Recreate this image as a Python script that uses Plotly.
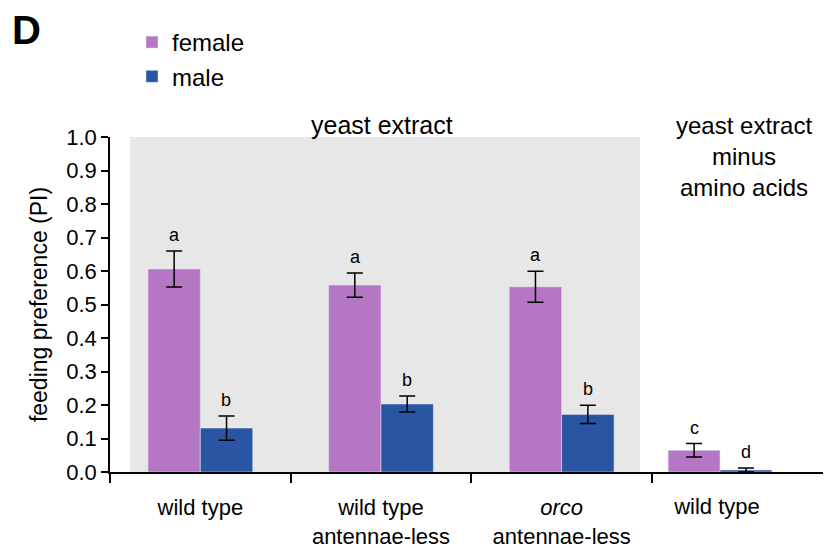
import plotly.graph_objects as go

# ---- data ----
groups_main = ["wild type", "wild type<br>antennae-less", "<i>orco</i><br>antennae-less"]
groups_minus = ["wild type "]
female_main = [0.606, 0.558, 0.553]
female_main_err = [0.054, 0.036, 0.046]
male_main = [0.131, 0.203, 0.172]
male_main_err = [0.036, 0.024, 0.027]
female_minus = [0.065]
female_minus_err = [0.020]
male_minus = [0.006]
male_minus_err = [0.006]
letters_female_main = ["a", "a", "a"]
letters_male_main = ["b", "b", "b"]
letters_female_minus = ["c"]
letters_male_minus = ["d"]
y_ticks = [0.0, 0.1, 0.2, 0.3, 0.4, 0.5, 0.6, 0.7, 0.8, 0.9, 1.0]

FEMALE = "#b577c3"
MALE = "#2a55a3"
FONT = "Liberation Sans, Arial, sans-serif"

# page offset (default body margin of the html page)
OFF = 8
W, H = 831 - OFF, 548 - OFF
L, R, T = 110 - OFF, 0, 137 - OFF
B = H - (472 - OFF)
pw, ph = W - L - R, H - T - B


def px(xs):
    return (xs - OFF - L) / pw


def py(ys):
    return (H - B - (ys - OFF)) / ph


fig = go.Figure()


def eb(err):
    return dict(type="data", array=err, color="black", thickness=1.5, width=8)


fig.add_trace(go.Bar(x=groups_main, y=female_main, name="female", marker_color=FEMALE,
                     error_y=eb(female_main_err), xaxis="x", yaxis="y", legendgroup="f"))
fig.add_trace(go.Bar(x=groups_main, y=male_main, name="male", marker_color=MALE,
                     error_y=eb(male_main_err), xaxis="x", yaxis="y", legendgroup="m"))
fig.add_trace(go.Bar(x=groups_minus, y=female_minus, name="female", marker_color=FEMALE,
                     error_y=eb(female_minus_err), xaxis="x2", yaxis="y", showlegend=False,
                     legendgroup="f"))
fig.add_trace(go.Bar(x=groups_minus, y=male_minus, name="male", marker_color=MALE,
                     error_y=eb(male_minus_err), xaxis="x2", yaxis="y", showlegend=False,
                     legendgroup="m"))

annotations = []


def add_letters(cats, vals, errs, letters, xref, shift):
    for c, v, e, l in zip(cats, vals, errs, letters):
        annotations.append(dict(x=c, y=v + e, xref=xref, yref="y", text=l, showarrow=False,
                                xshift=shift, yanchor="bottom", yshift=4,
                                font=dict(size=18, color="black", family=FONT)))


add_letters(groups_main, female_main, female_main_err, letters_female_main, "x", -26)
add_letters(groups_main, male_main, male_main_err, letters_male_main, "x", 26)
add_letters(groups_minus, female_minus, female_minus_err, letters_female_minus, "x2", -26)
add_letters(groups_minus, male_minus, male_minus_err, letters_male_minus, "x2", 26)

annotations.append(dict(x=px(382), y=py(125), xref="paper", yref="paper", text="yeast extract",
                        showarrow=False, xanchor="center", yanchor="middle",
                        font=dict(size=25, color="black", family=FONT)))
annotations.append(dict(x=px(744), y=py(156), xref="paper", yref="paper",
                        text="yeast extract<br>minus<br>amino acids", showarrow=False,
                        xanchor="center", yanchor="middle",
                        font=dict(size=24, color="black", family=FONT)))
annotations.append(dict(x=px(10), y=py(30), xref="paper", yref="paper", text="<b>D</b>",
                        showarrow=False, xanchor="left", yanchor="middle",
                        font=dict(size=40, color="black", family=FONT)))

fig.update_layout(
    width=W, height=H,
    margin=dict(l=L, r=R, t=T, b=B),
    paper_bgcolor="white", plot_bgcolor="white",
    barmode="group", bargap=0.42, bargroupgap=0,
    font=dict(family=FONT, color="black", size=21),
    showlegend=True,
    legend=dict(x=px(132), y=py(20), xanchor="left", yanchor="top",
                font=dict(size=24, family=FONT), bgcolor="rgba(0,0,0,0)",
                tracegroupgap=4, traceorder="normal"),
    xaxis=dict(domain=[0, px(652)], type="category", range=[-0.5, 2.5],
               showline=True, linecolor="black", linewidth=1.5,
               ticks="outside", tickson="boundaries", ticklen=9, tickcolor="black", tickwidth=1.5,
               ticklabelstandoff=15,
               tickfont=dict(size=22, family=FONT), showgrid=False, zeroline=False),
    xaxis2=dict(domain=[px(652), 1], type="category", anchor="y",
                range=[-0.38, 0.62],
                showline=True, linecolor="black", linewidth=1.5,
                ticks="outside", ticklen=9, tickcolor="rgba(0,0,0,0)",
                ticklabelstandoff=5,
                tickfont=dict(size=22, family=FONT), showgrid=False, zeroline=False),
    yaxis=dict(range=[0, 1], tickvals=y_ticks, tickformat=".1f",
               showline=True, linecolor="black", linewidth=1.5,
               ticks="outside", ticklen=7, tickcolor="black", tickwidth=1.5,
               tickfont=dict(size=22, family=FONT), showgrid=False, zeroline=False,
               title=dict(text="feeding preference (PI)", font=dict(size=23, family=FONT),
                          standoff=12)),
    annotations=annotations,
    shapes=[dict(type="rect", xref="paper", yref="y", x0=px(130), x1=px(640), y0=0, y1=1,
                 fillcolor="#e7e7e7", line_width=0, layer="below")],
)

fig.write_html("out.html")
